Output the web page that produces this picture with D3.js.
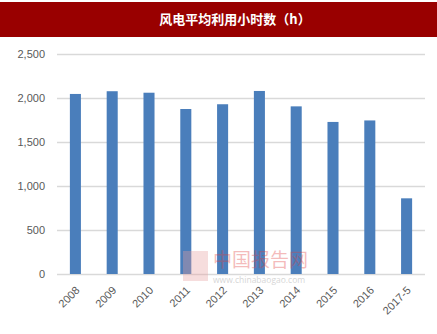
<!DOCTYPE html>
<html>
<head>
<meta charset="utf-8">
<script src="https://cdn.jsdelivr.net/npm/d3@7"></script>
<style>
  body { margin: 0; background: #fff; }
  svg { display: block; font-family: "Open Sans", "Liberation Sans", sans-serif; }
</style>
</head>
<body>
<div class="chart"></div>
<script>
// values
const years = ["2008", "2009", "2010", "2011", "2012", "2013", "2014", "2015", "2016", "2017-5"];
const hours = [2046, 2077, 2060, 1875, 1929, 2080, 1905, 1728, 1745, 860];
const y_ticks = [0, 500, 1000, 1500, 2000, 2500];
const title = "风电平均利用小时数（h）";

const frame = { width: 437, height: 334, left: 57, right: 425, top: 54, bottom: 274 };

const svg = d3.select(".chart").append("svg")
  .attr("width", frame.width)
  .attr("height", frame.height);

// title bar
svg.append("rect")
  .attr("x", 0).attr("y", 2)
  .attr("width", frame.width).attr("height", 35)
  .attr("fill", "#990000");
svg.append("text").text(title)
  .attr("x", 235).attr("y", 24)
  .attr("text-anchor", "middle")
  .attr("fill", "#fff")
  .style("font-family", "'Noto Sans CJK SC', sans-serif")
  .style("font-weight", "bold")
  .style("font-size", "13px");

var x = d3.scaleBand().domain(years).range([frame.left, frame.right]).paddingInner(0.7).paddingOuter(0.35);
var y = d3.scaleLinear().domain([0, 2500]).range([frame.bottom, frame.top]);

// gridlines + y labels
const yAxis = svg.append("g")
  .attr("transform", `translate(${frame.left},0)`)
  .call(d3.axisLeft(y).tickValues(y_ticks).tickSize(-(frame.right - frame.left)).tickPadding(12).tickFormat(d3.format(",")));
yAxis.select(".domain").remove();
yAxis.selectAll("line").attr("stroke", "#d9d9d9").attr("stroke-width", 1.5);
yAxis.selectAll("text").attr("fill", "#595959").style("font-size", "11px");

// bars
svg.append("g").selectAll("rect")
  .data(years)
  .join("rect")
  .attr("x", d => x(d))
  .attr("width", x.bandwidth())
  .attr("y", (d, i) => y(hours[i]))
  .attr("height", (d, i) => y(0) - y(hours[i]))
  .attr("fill", "#4a7ebb");

// watermark (sits on top of the bars)
const wm = svg.append("g").attr("opacity", 0.35);
wm.append("rect").attr("x", 183).attr("y", 251).attr("width", 25).attr("height", 30).attr("fill", "#e8a0a0");
wm.append("text").text("中国报告网")
  .attr("x", 213).attr("y", 267)
  .attr("fill", "#e04040")
  .style("font-family", "'Noto Sans CJK SC', sans-serif")
  .style("font-size", "19px");
wm.append("text").text("www.chinabaogao.com")
  .attr("x", 213).attr("y", 283)
  .attr("fill", "#888")
  .style("font-size", "8.5px");

// x labels
const xAxis = svg.append("g")
  .attr("transform", `translate(0,${frame.bottom})`)
  .call(d3.axisBottom(x).tickSize(0).tickPadding(0));
xAxis.select(".domain").remove();
xAxis.selectAll("text")
  .attr("fill", "#595959")
  .style("font-size", "11px")
  .attr("text-anchor", "end")
  .attr("dy", 0)
  .attr("transform", "translate(5,17) rotate(-45)");
</script>
</body>
</html>
